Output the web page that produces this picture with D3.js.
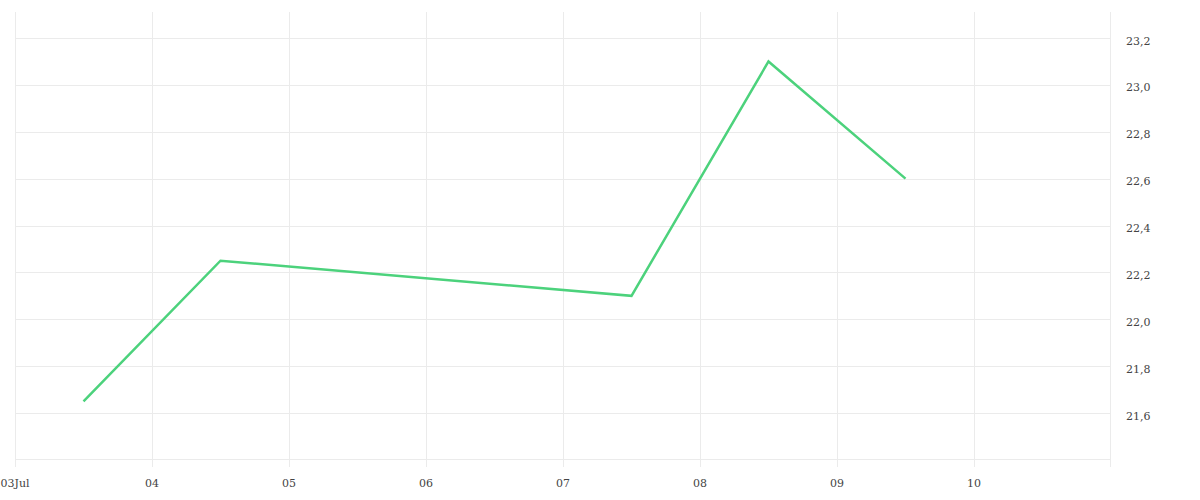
<!DOCTYPE html>
<html>
<head>
<meta charset="utf-8">
<script src="https://cdn.jsdelivr.net/npm/d3@7"></script>
<style>
  html, body { margin: 0; padding: 0; background: #fff; }
  svg text { font-family: "DejaVu Serif", serif; font-size: 11px; fill: #444; }
</style>
</head>
<body>
<svg id="chart" width="1200" height="500"></svg>
<script>
// Data
const dates = ["2023-07-03T12:00", "2023-07-04T12:00", "2023-07-07T12:00", "2023-07-08T12:00", "2023-07-09T12:00"];
const values = [21.65, 22.25, 22.10, 23.10, 22.60];
const yTicks = [21.6, 21.8, 22.0, 22.2, 22.4, 22.6, 22.8, 23.0, 23.2];
const xTickDates = ["2023-07-03", "2023-07-04", "2023-07-05", "2023-07-06", "2023-07-07", "2023-07-08", "2023-07-09", "2023-07-10"];
const xTickLabels = ["03Jul", "04", "05", "06", "07", "08", "09", "10"];
const xDomain = ["2023-07-03", "2023-07-11"];
const yDomain = [21.404, 23.311];

const parse = d3.timeParse("%Y-%m-%dT%H:%M");
const parseDay = d3.timeParse("%Y-%m-%d");
const data = dates.map((d, i) => ({ date: parse(d), value: values[i] }));

const mLeft = 15, mRight = 1111, mTop = 12, mBottom = 459;
const svg = d3.select("#chart");

const x = d3.scaleTime().domain(xDomain.map(parseDay)).range([mLeft, mRight]);
const y = d3.scaleLinear().domain(yDomain).range([mBottom, mTop]);

const grid = "#ebebeb";

// horizontal grid lines
svg.append("g").selectAll("line").data(yTicks).join("line")
  .attr("x1", mLeft).attr("x2", mRight)
  .attr("y1", d => Math.round(y(d)) + 0.5).attr("y2", d => Math.round(y(d)) + 0.5)
  .attr("stroke", grid).attr("stroke-width", 1);

// bottom line
svg.append("line")
  .attr("x1", mLeft).attr("x2", mRight)
  .attr("y1", mBottom + 0.5).attr("y2", mBottom + 0.5)
  .attr("stroke", grid);

// vertical grid lines (with tick extension)
const xTicks = xTickDates.map(parseDay);
svg.append("g").selectAll("line").data(xTicks).join("line")
  .attr("x1", d => Math.round(x(d)) + 0.5).attr("x2", d => Math.round(x(d)) + 0.5)
  .attr("y1", mTop).attr("y2", mBottom + 8)
  .attr("stroke", grid);

// right edge line
svg.append("line")
  .attr("x1", mRight - 0.5).attr("x2", mRight - 0.5)
  .attr("y1", mTop).attr("y2", mBottom + 8)
  .attr("stroke", grid);

// x labels
svg.append("g").selectAll("text").data(xTicks).join("text")
  .attr("x", d => x(d)).attr("y", 487)
  .attr("text-anchor", "middle")
  .text((d, i) => xTickLabels[i]);

// y labels (right)
const fmt = d3.format(".1f");
svg.append("g").selectAll("text").data(yTicks).join("text")
  .attr("x", 1126).attr("y", d => y(d) + 6.5)
  .attr("text-anchor", "start")
  .text(d => fmt(d).replace(".", ","));

// line
const line = d3.line().x(d => x(d.date)).y(d => y(d.value));
svg.append("path").datum(data)
  .attr("d", line)
  .attr("fill", "none")
  .attr("stroke", "#4cd27c")
  .attr("stroke-width", 2.5)
  .attr("stroke-linejoin", "miter");
</script>
</body>
</html>
